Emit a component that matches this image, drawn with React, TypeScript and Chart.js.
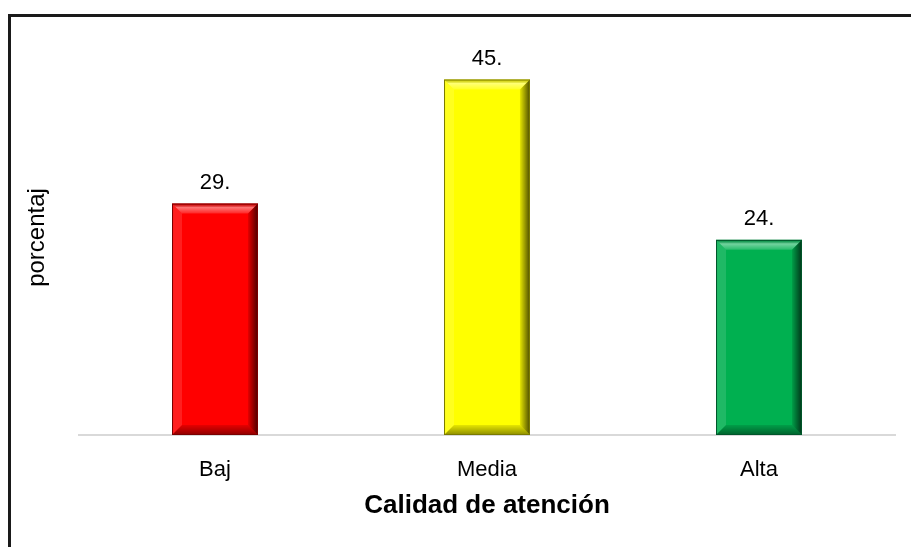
import React, { useEffect, useRef } from "react";
import { Chart, registerables } from "chart.js";

Chart.register(...registerables);

const categories = ["Baj", "Media", "Alta"];
const values = [29.3, 45.0, 24.7];
const barColors = ["#ff0000", "#ffff00", "#00b050"];
const edgeColors = ["#7a0000", "#7a7a00", "#00552a"];
const xTitle = "Calidad de atención";
const yTitle = "porcentaj";
const yMax = 50;

const FONT = "'Liberation Sans', Arial, sans-serif";

const bevelPlugin = {
  id: "bevel",
  afterDatasetsDraw(chart: any) {
    const ctx = chart.ctx;
    const meta = chart.getDatasetMeta(0);
    const poly = (pts: number[][], fill: any) => {
      ctx.beginPath();
      ctx.moveTo(pts[0][0], pts[0][1]);
      for (let i = 1; i < pts.length; i++) ctx.lineTo(pts[i][0], pts[i][1]);
      ctx.closePath();
      ctx.fillStyle = fill;
      ctx.fill();
    };
    meta.data.forEach((bar: any, i: number) => {
      const { x, y, base, width } = bar.getProps(["x", "y", "base", "width"], true);
      const l = x - width / 2;
      const r = x + width / 2;
      const t = y;
      const btm = base;
      const b = 10;
      ctx.save();
      const gt = ctx.createLinearGradient(0, t, 0, t + b);
      gt.addColorStop(0, "rgba(0,0,0,0.15)");
      gt.addColorStop(0.4, "rgba(255,255,255,0.45)");
      gt.addColorStop(1, "rgba(255,255,255,0.15)");
      poly([[l, t], [r, t], [r - b, t + b], [l + b, t + b]], gt);
      poly([[l, t], [l + b, t + b], [l + b, btm - b], [l, btm]], "rgba(255,255,255,0.12)");
      const gr = ctx.createLinearGradient(r - b, 0, r, 0);
      gr.addColorStop(0, "rgba(0,0,0,0.1)");
      gr.addColorStop(1, "rgba(0,0,0,0.7)");
      poly([[r, t], [r, btm], [r - b, btm - b], [r - b, t + b]], gr);
      const gb = ctx.createLinearGradient(0, btm - b, 0, btm);
      gb.addColorStop(0, "rgba(0,0,0,0.1)");
      gb.addColorStop(1, "rgba(0,0,0,0.45)");
      poly([[l, btm], [r, btm], [r - b, btm - b], [l + b, btm - b]], gb);
      ctx.strokeStyle = edgeColors[i];
      ctx.lineWidth = 1;
      ctx.strokeRect(l + 0.5, t + 0.5, width - 1, btm - t - 1);
      ctx.fillStyle = "#000";
      ctx.font = `22px ${FONT}`;
      ctx.textAlign = "center";
      ctx.textBaseline = "middle";
      ctx.fillText(Math.floor(values[i]) + ".", x, t - 21);
      ctx.restore();
    });
  },
};

export default function App() {
  const canvasRef = useRef<HTMLCanvasElement | null>(null);

  useEffect(() => {
    if (!canvasRef.current) return;
    const chart = new Chart(canvasRef.current, {
      type: "bar",
      data: {
        labels: categories,
        datasets: [
          {
            data: values,
            backgroundColor: barColors,
            borderWidth: 0,
            barPercentage: 0.316,
            categoryPercentage: 1,
          },
        ],
      },
      options: {
        responsive: false,
        animation: false,
        maintainAspectRatio: false,
        layout: { padding: { top: 40, right: 16, bottom: 0, left: 0 } },
        plugins: { legend: { display: false }, tooltip: { enabled: false } },
        scales: {
          x: {
            afterFit: (s: any) => {
              s.height = 112;
            },
            grid: { display: true, color: "transparent", drawTicks: false },
            border: { display: true, color: "#d9d9d9", width: 2 },
            ticks: { color: "#000", font: { family: FONT, size: 22 }, padding: 22 },
            title: {
              display: true,
              text: xTitle,
              color: "#000",
              font: { family: FONT, size: 26, weight: "bold" },
              padding: { top: 0, bottom: 26 },
            },
          },
          y: {
            min: 0,
            max: yMax,
            afterFit: (s: any) => {
              s.width = 79;
            },
            grid: { display: false },
            border: { display: false },
            ticks: { display: false },
            title: {
              display: true,
              text: yTitle,
              color: "#000",
              font: { family: FONT, size: 24 },
              padding: { top: 23, bottom: 0 },
            },
          },
        },
      },
      plugins: [bevelPlugin],
    });
    return () => chart.destroy();
  }, []);

  return (
    <div
      style={{
        position: "fixed",
        left: 0,
        top: 0,
        width: 911,
        height: 547,
        overflow: "hidden",
        background: "#fff",
      }}
    >
      <div
        style={{
          position: "absolute",
          left: 8,
          top: 14,
          width: 1000,
          height: 1000,
          border: "3px solid #1a1a1a",
          boxSizing: "border-box",
        }}
      />
      <canvas
        ref={canvasRef}
        width={911}
        height={547}
        style={{ position: "absolute", left: 0, top: 0, width: 911, height: 547 }}
      />
    </div>
  );
}
